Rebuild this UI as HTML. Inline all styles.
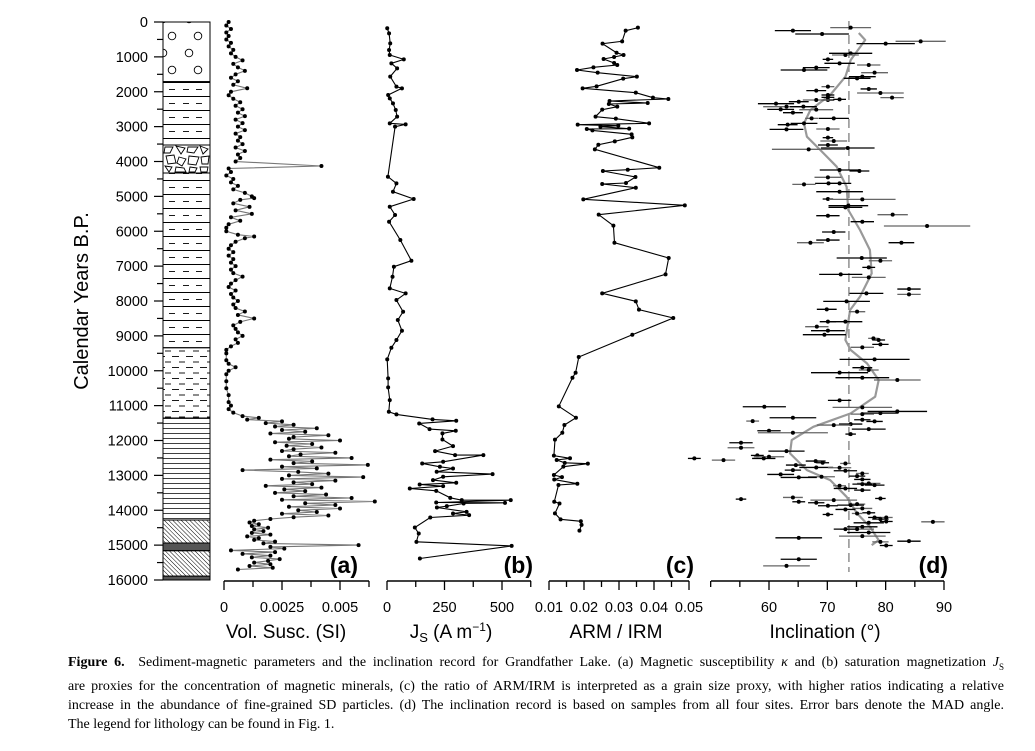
<!DOCTYPE html>
<html><head><meta charset="utf-8">
<style>
html,body{margin:0;padding:0;background:#fff;}
body{width:1035px;height:751px;position:relative;overflow:hidden;font-family:"Liberation Sans",sans-serif;}
#cap{position:absolute;left:68px;top:653px;width:936px;font-family:"Liberation Serif",serif;font-size:14px;line-height:19px;color:#000;}
#cap div{text-align:justify;text-align-last:justify;white-space:nowrap;}
#cap div.last{text-align-last:left;}
</style></head>
<body>
<svg id="chart" width="1035" height="751" viewBox="0 0 1035 751" xmlns="http://www.w3.org/2000/svg" style="position:absolute;left:0;top:0">
<defs>
<pattern id="pGravel" patternUnits="userSpaceOnUse" x="163" y="19" width="26" height="34">
<circle cx="0" cy="0" r="3.8" fill="none" stroke="#000" stroke-width="0.9"/>
<circle cx="26" cy="0" r="3.8" fill="none" stroke="#000" stroke-width="0.9"/>
<circle cx="9" cy="17" r="3.8" fill="none" stroke="#000" stroke-width="0.9"/>
<circle cx="0" cy="34" r="3.8" fill="none" stroke="#000" stroke-width="0.9"/>
<circle cx="26" cy="34" r="3.8" fill="none" stroke="#000" stroke-width="0.9"/>
</pattern>
<pattern id="pSilt" patternUnits="userSpaceOnUse" x="163" y="82" width="47" height="14">
<line x1="0" y1="0.5" x2="47" y2="0.5" stroke="#000" stroke-width="0.9"/>
<line x1="6" y1="7.5" x2="12" y2="7.5" stroke="#000" stroke-width="0.9"/>
<line x1="20" y1="7.5" x2="26" y2="7.5" stroke="#000" stroke-width="0.9"/>
<line x1="33" y1="7.5" x2="39" y2="7.5" stroke="#000" stroke-width="0.9"/>
</pattern>
<pattern id="pDash" patternUnits="userSpaceOnUse" x="163" y="348" width="14" height="11">
<line x1="2" y1="3" x2="8" y2="3" stroke="#000" stroke-width="0.9"/>
<line x1="9" y1="8.5" x2="14" y2="8.5" stroke="#000" stroke-width="0.9"/>
<line x1="0" y1="8.5" x2="2" y2="8.5" stroke="#000" stroke-width="0.9"/>
</pattern>
<pattern id="pLines" patternUnits="userSpaceOnUse" x="163" y="418" width="47" height="5">
<line x1="0" y1="0.5" x2="47" y2="0.5" stroke="#000" stroke-width="0.8"/>
</pattern>
<pattern id="pHatch" patternUnits="userSpaceOnUse" width="3" height="3" patternTransform="rotate(-45)">
<line x1="0" y1="0" x2="0" y2="3" stroke="#000" stroke-width="1"/>
</pattern>
</defs>
<g id="litho"></g>
<g id="yaxis"></g>
<g id="panelA"></g>
<g id="panelB"></g>
<g id="panelC"></g>
<g id="panelD"></g>
<g id="axes"></g>
<text transform="translate(88,301) rotate(-90)" text-anchor="middle" font-size="20" font-family="Liberation Sans, sans-serif">Calendar Years B.P.</text>
<text x="358" y="573" text-anchor="end" font-size="23" font-weight="bold" font-family="Liberation Sans, sans-serif">(a)</text>
<text x="533" y="573" text-anchor="end" font-size="23" font-weight="bold" font-family="Liberation Sans, sans-serif">(b)</text>
<text x="694" y="573" text-anchor="end" font-size="23" font-weight="bold" font-family="Liberation Sans, sans-serif">(c)</text>
<text x="948" y="573" text-anchor="end" font-size="23" font-weight="bold" font-family="Liberation Sans, sans-serif">(d)</text>
<text x="286" y="638" text-anchor="middle" font-size="19" font-family="Liberation Sans, sans-serif">Vol. Susc. (SI)</text>
<text x="451" y="638" text-anchor="middle" font-size="19" font-family="Liberation Sans, sans-serif">J<tspan font-size="13" dy="4">S</tspan><tspan dy="-4"> (A m</tspan><tspan font-size="12" dy="-7">−1</tspan><tspan dy="7">)</tspan></text>
<text x="616" y="638" text-anchor="middle" font-size="19" font-family="Liberation Sans, sans-serif">ARM / IRM</text>
<text x="825" y="638" text-anchor="middle" font-size="19" font-family="Liberation Sans, sans-serif">Inclination (°)</text>
</svg>
<div id="cap">
<div><b>Figure 6.</b>&nbsp; Sediment-magnetic parameters and the inclination record for Grandfather Lake. (a) Magnetic susceptibility <i>κ</i> and (b) saturation magnetization <i>J</i><sub style="font-size:9px">S</sub></div>
<div>are proxies for the concentration of magnetic minerals, (c) the ratio of ARM/IRM is interpreted as a grain size proxy, with higher ratios indicating a relative</div>
<div>increase in the abundance of fine-grained SD particles. (d) The inclination record is based on samples from all four sites. Error bars denote the MAD angle.</div>
<div class="last">The legend for lithology can be found in Fig. 1.</div>
</div>
<script>
// ---- Data ----
const suscAges = [0,100,200,300,400,500,600,700,800,900,1000,1100,1200,1300,1400,1500,1600,1700,1800,1900,2000,2100,2200,2300,2400,2500,2600,2700,2800,2900,3000,3100,3200,3300,3400,3500,3600,3700,3800,3900,4000,4130,4200,4300,4400,4500,4600,4700,4800,4900,5000,5050,5100,5200,5300,5400,5500,5600,5700,5800,5900,6000,6100,6150,6200,6300,6400,6500,6600,6700,6800,6900,7000,7100,7200,7300,7400,7500,7600,7700,7800,7900,8000,8100,8200,8300,8400,8500,8600,8700,8800,8900,9000,9100,9200,9300,9400,9500,9700,9800,9900,10000,10100,10300,10500,10700,10900,11000,11100,11200,11300,11350,11400,11450,11500,11550,11600,11650,11700,11750,11800,11850,11900,11950,12000,12050,12100,12150,12200,12250,12300,12350,12400,12450,12500,12550,12600,12650,12700,12750,12800,12850,12900,12950,13000,13050,13100,13150,13200,13250,13300,13350,13400,13450,13500,13550,13600,13650,13700,13750,13800,13850,13900,13950,14000,14050,14100,14150,14200,14250,14300,14350,14400,14450,14500,14550,14600,14650,14700,14750,14800,14850,14900,14950,15000,15050,15100,15150,15200,15250,15300,15350,15400,15450,15500,15550,15600,15650,15700];
const suscVals = [0.0002,0.0001,0.0003,0.0001,0.0002,0.0001,0.0003,0.0002,0.0004,0.0003,0.0005,0.0008,0.0004,0.0006,0.0009,0.0005,0.0003,0.0006,0.0004,0.0010,0.0003,0.0002,0.0004,0.0007,0.0005,0.0008,0.0006,0.0009,0.0005,0.0008,0.0006,0.0009,0.0005,0.0007,0.0006,0.0008,0.0005,0.0009,0.0006,0.0007,0.0005,0.0042,0.0002,0.0003,0.0001,0.0004,0.0003,0.0006,0.0004,0.0009,0.0012,0.0013,0.0007,0.0004,0.0011,0.0005,0.0012,0.0003,0.0007,0.0002,0.0001,0.0001,0.0006,0.0013,0.0009,0.0005,0.0003,0.0002,0.0004,0.0002,0.0004,0.0003,0.0005,0.0003,0.0004,0.0008,0.0005,0.0003,0.0002,0.0005,0.0003,0.0004,0.0006,0.0004,0.0005,0.0009,0.0006,0.0013,0.0007,0.0004,0.0005,0.0006,0.0008,0.0005,0.0006,0.0003,0.0001,0.0001,0.0001,0.0002,0.0005,0.0002,0.0001,0.0001,0.0001,0.0002,0.0002,0.0003,0.0002,0.0004,0.0008,0.0015,0.0010,0.0025,0.0018,0.0030,0.0022,0.0040,0.0025,0.0035,0.0020,0.0045,0.0030,0.0028,0.0050,0.0022,0.0038,0.0027,0.0042,0.0030,0.0025,0.0048,0.0033,0.0028,0.0055,0.0020,0.0038,0.0030,0.0062,0.0025,0.0040,0.0008,0.0032,0.0045,0.0028,0.0060,0.0025,0.0048,0.0030,0.0038,0.0018,0.0042,0.0026,0.0035,0.0022,0.0044,0.0030,0.0055,0.0025,0.0065,0.0035,0.0048,0.0028,0.0050,0.0032,0.0040,0.0025,0.0045,0.0030,0.0020,0.0013,0.0011,0.0015,0.0012,0.0019,0.0013,0.0017,0.0012,0.0020,0.0010,0.0015,0.0013,0.0022,0.0017,0.0058,0.0020,0.0026,0.0003,0.0022,0.0008,0.0020,0.0012,0.0024,0.0019,0.0013,0.0020,0.0011,0.0021,0.0006];

const jsAges = [181,325,612,803,947,1071,1185,1328,1567,1854,1902,2093,2189,2333,2524,2715,2906,2935,3001,4436,4627,4866,5076,5296,5535,5726,6252,6845,7017,7304,7638,7782,7973,8307,8546,8852,9120,9340,9675,10220,10478,10841,11176,11252,11396,11434,11511,11673,11721,11797,11970,12161,12304,12419,12419,12610,12658,12754,12802,12897,12964,13041,13136,13213,13261,13309,13376,13443,13644,13711,13711,13778,13787,13807,13883,13921,14045,14093,14141,14208,14495,14667,14906,15021,15384];
const jsVals = [1,9,14,9,12,73,19,44,14,41,65,5,12,26,38,44,12,81,35,4,41,26,116,12,35,9,58,106,30,24,12,81,41,70,47,65,41,19,1,5,5,12,8,41,198,301,140,185,299,241,241,287,209,296,419,244,153,230,287,216,459,244,200,301,142,244,99,214,275,325,538,214,513,333,260,217,346,287,357,188,121,138,128,542,143];

const armAges = [163,249,554,621,880,946,1004,1061,1176,1233,1300,1376,1453,1568,1625,1845,1902,2026,2170,2208,2265,2323,2351,2428,2514,2714,2772,2906,2944,2973,3001,3059,3068,3107,3221,3307,3422,3518,3651,4178,4235,4272,4445,4617,4645,4751,5085,5257,5525,5840,6328,6767,7235,7780,8010,8249,8487,8966,9606,10056,10199,11020,11346,11556,11776,11976,12435,12510,12559,12640,12664,12750,12989,13050,13120,13239,13277,13755,13805,14090,14260,14317,14420,14585];
const armVals = [0.0354,0.0319,0.0309,0.0253,0.0293,0.0313,0.0286,0.0256,0.0286,0.0295,0.0227,0.0180,0.0239,0.0351,0.0312,0.0236,0.0196,0.0348,0.0397,0.0441,0.0273,0.0382,0.0271,0.0295,0.0252,0.0233,0.0291,0.0386,0.0182,0.0298,0.0247,0.0329,0.0208,0.0224,0.0336,0.0338,0.0288,0.0241,0.0231,0.0415,0.0325,0.0254,0.0347,0.0320,0.0252,0.0348,0.0198,0.0488,0.0242,0.0284,0.0287,0.0442,0.0433,0.0252,0.0348,0.0357,0.0455,0.0338,0.0185,0.0176,0.0167,0.0128,0.0177,0.0144,0.0138,0.0117,0.0114,0.0160,0.0122,0.0145,0.0211,0.0141,0.0114,0.0137,0.0115,0.0181,0.0127,0.0115,0.0130,0.0117,0.0133,0.0191,0.0193,0.0187];

const incAges = [162,248,344,554,621,898,946,1071,1185,1233,1309,1376,1453,1568,1615,1854,1920,1968,2035,2093,2160,2169,2218,2237,2237,2285,2342,2428,2428,2505,2514,2600,2763,2763,2906,2944,3068,3078,3317,3412,3527,3613,3651,4244,4272,4454,4627,4627,4656,4866,5076,5085,5267,5315,5525,5554,5726,5850,6022,6252,6328,6328,6767,6845,7036,7237,7323,7657,7782,7810,8010,8239,8306,8593,8593,8736,8851,8966,9071,9118,9243,9328,9673,9912,9979,10055,10199,10266,10850,11033,11051,11166,11214,11243,11348,11405,11443,11453,11529,11558,11673,11721,11778,11816,12065,12208,12304,12428,12466,12514,12514,12562,12590,12638,12658,12705,12773,12782,12849,12868,12945,12973,13021,13040,13059,13116,13231,13250,13279,13298,13375,13423,13633,13662,13681,13709,13757,13786,13824,13853,13872,13948,13977,14073,14092,14121,14207,14207,14255,14322,14332,14360,14475,14542,14542,14638,14743,14791,14887,14906,15011,15404,15595];
const incVals = [74.0,64.1,69.1,86.0,80.0,74.0,73.1,70.1,72.1,77.1,68.1,66.0,78.1,76.0,75.1,70.1,77.1,68.1,79.1,70.1,70.1,81.1,72.1,70.1,68.1,65.1,61.2,63.0,65.9,62.0,68.1,64.1,71.1,67.3,66.0,63.2,70.1,63.0,70.1,71.1,70.1,73.5,66.8,72.1,75.5,70.1,70.2,72.1,66.0,72.1,70.1,76.0,73.6,73.1,81.2,70.1,76.0,87.1,71.1,70.1,67.1,82.7,75.9,79.1,77.1,72.3,77.1,84.0,76.7,84.0,73.3,69.9,75.1,73.1,70.1,68.2,70.1,69.5,77.9,78.8,79.1,76.0,78.1,76.0,77.1,72.1,76.0,82.0,72.1,59.2,76.0,82.0,79.1,76.0,64.1,76.0,57.2,78.1,74.0,71.1,77.1,60.0,64.1,74.0,55.2,55.2,63.0,58.0,60.0,47.2,59.1,52.2,68.0,69.2,73.1,64.6,68.1,72.1,64.1,73.1,76.0,62.0,75.1,69.0,65.1,76.0,77.1,76.0,78.1,72.1,73.1,76.0,64.1,79.1,55.2,71.1,65.1,68.1,75.1,74.0,70.1,76.0,73.1,77.1,75.1,70.1,78.1,80.1,79.1,80.1,88.1,77.1,76.0,75.1,73.1,77.1,76.0,65.1,84.0,79.1,80.1,65.1,63.0];
const incErr = [3.5,3.1,4.6,4.3,5.0,3.7,2.3,0.9,2.6,2.0,2.3,4.0,2.3,2.3,2.3,1.1,1.4,1.7,4.0,1.1,1.1,2.0,1.1,1.1,2.3,1.7,3.1,4.0,2.3,2.3,2.9,1.7,2.6,1.1,2.3,1.7,2.0,2.9,0.9,2.3,1.7,4.6,6.3,3.4,1.7,2.3,2.3,2.0,2.0,4.0,0.9,5.7,3.4,2.9,2.6,2.0,2.0,7.4,2.0,2.0,2.3,2.2,4.3,2.0,1.1,3.7,2.9,2.0,2.9,2.0,4.0,1.7,1.4,2.9,1.4,2.0,2.9,3.7,0.9,1.1,1.4,2.0,6.0,1.7,1.7,4.9,4.6,4.0,2.0,3.7,5.1,5.1,3.1,2.0,4.0,1.4,1.1,1.4,2.0,2.9,2.9,2.0,6.0,0.9,2.0,2.3,3.1,1.1,2.6,1.1,2.0,2.0,1.7,1.1,0.9,1.7,2.9,2.0,1.4,2.0,1.1,2.3,1.4,2.3,3.1,1.4,2.0,1.7,1.7,1.1,2.0,1.4,1.7,0.9,0.9,4.0,1.1,1.4,1.4,2.3,1.7,1.7,1.7,1.1,0.9,0.9,1.1,1.1,1.4,1.1,2.0,2.6,2.6,2.9,2.0,3.7,4.0,4.0,2.0,1.4,1.1,3.1,4.0];

const curveAges = [316,516,1090,1568,2093,2523,2906,3288,3670,4148,4722,5391,5965,6538,7208,7877,8259,9118,9405,9788,10266,10744,11223,11606,11988,12370,12849,13135,13613,14092,14475,14857,15000];
const curveVals = [75.4,76.5,74.0,73.1,70.5,67.1,66.0,66.5,68.8,71.6,73.3,73.6,75.6,77.3,77.6,75.6,73.9,73.1,74.0,76.8,78.8,78.2,74.0,67.6,63.9,63.6,66.5,70.5,73.3,75.1,77.3,78.8,77.6];
const refInclination = 73.7;

const yTicks = [0,1000,2000,3000,4000,5000,6000,7000,8000,9000,10000,11000,12000,13000,14000,15000,16000];
const aTickLabels = ["0","0.0025","0.005"];
const aTickVals = [0,0.0025,0.005];
const bTickLabels = ["0","250","500"];
const bTickVals = [0,250,500];
const cTickLabels = ["0.01","0.02","0.03","0.04","0.05"];
const cTickVals = [0.01,0.02,0.03,0.04,0.05];
const dTickLabels = ["60","70","80","90"];
const dTickVals = [60,70,80,90];

const lithoTops = [0,1711,3527,4330,9340,11355,14280,14940,15160,15890];
const lithoBottoms = [1711,3527,4330,9340,11355,14280,14940,15160,15890,16000];
const lithoTypes = ["gravel","silt","breccia","silt","dash","lines","hatch","dark","hatch","dark"];

// ---- Scales ----
const NS = "http://www.w3.org/2000/svg";
const Y0 = 22, Y1 = 580;
const y = a => Y0 + (a/16000)*(Y1-Y0);
const xA = v => 224 + v/0.005*116;
const xB = v => 387 + v*0.23;
const xC = v => 549 + (v-0.01)/0.04*140;
const xD = v => 769 + (v-60)*5.833;
const AXY = 581;

function mk(tag, attrs, parent){
  const e = document.createElementNS(NS, tag);
  for (const k in attrs) e.setAttribute(k, attrs[k]);
  parent.appendChild(e);
  return e;
}

const litho = document.getElementById('litho');
const fills = {gravel:'url(#pGravel)',silt:'url(#pSilt)',dash:'url(#pDash)',lines:'url(#pLines)',hatch:'url(#pHatch)',dark:'#555',breccia:'#fff'};
for (let i=0;i<lithoTops.length;i++){
  const r = mk('rect',{x:163,y:y(lithoTops[i]),width:47,height:y(lithoBottoms[i])-y(lithoTops[i]),fill:fills[lithoTypes[i]],stroke:'#000','stroke-width':1},litho);
  
  
  if (lithoTypes[i]==='breccia'){
    const t=y(lithoTops[i]), b=y(lithoBottoms[i]);
    const polys=[[[165,t+2],[173,t+2],[170,t+8],[164,t+8]],[[176,t+1],[185,t+3],[181,t+9]],[[188,t+2],[198,t+2],[194,t+8],[187,t+7]],[[200,t+1],[208,t+4],[203,t+9]],[[166,t+11],[174,t+10],[176,t+18],[168,t+19]],[[179,t+12],[186,t+14],[182,t+21],[177,t+18]],[[189,t+11],[199,t+12],[196,t+20],[188,t+19]],[[201,t+12],[209,t+11],[208,t+19],[202,t+19]],[[165,t+21],[172,t+22],[169,b-1]],[[176,t+22],[184,t+23],[186,b-1],[175,b-1]],[[190,t+22],[197,t+23],[195,b-1],[189,b-1]],[[200,t+22],[208,t+22],[207,b-1],[201,b-1]]];
    polys.forEach(p=>{
      const pg=mk('polygon',{points:p.map(q=>q.join(',')).join(' '),fill:'none',stroke:'#000','stroke-width':0.9},litho);
      
      
    });
  }
}

const yax = document.getElementById('yaxis');
for (let a=0;a<=16000;a+=500){
  const major = a%1000===0;
  const tk = mk('line',{x1:major?154:157,x2:163,y1:y(a),y2:y(a),stroke:'#000','stroke-width':1.2},yax);
  
  
}
yTicks.forEach(a=>{
  const t = mk('text',{x:148,y:y(a)+5,'text-anchor':'end','font-size':14.5,'font-family':'Liberation Sans, sans-serif'},yax);
  t.textContent = a;
  
  
});

const axes = document.getElementById('axes');
function xAxis(x1,x2,minorVals,sc,labVals,labs,name){
  const l = mk('line',{x1:x1,x2:x2,y1:AXY,y2:AXY,stroke:'#000','stroke-width':1.5},axes);
  
  
  minorVals.forEach(v=>{
    const major = labVals.some(m=>Math.abs(m-v)<1e-9);
    const t = mk('line',{x1:sc(v),x2:sc(v),y1:AXY,y2:AXY+(major?9:6),stroke:'#000','stroke-width':1.3},axes);
    
    
  });
  labVals.forEach((v,i)=>{
    const t = mk('text',{x:sc(v),y:612,'text-anchor':'middle','font-size':14.5,'font-family':'Liberation Sans, sans-serif'},axes);
    t.textContent = labs[i];
    
    
  });
}
xAxis(224,369,[0,0.00125,0.0025,0.00375,0.005,0.00625],xA,aTickVals,aTickLabels,'x-a');
xAxis(387,531,[0,125,250,375,500,625],xB,bTickVals,bTickLabels,'x-b');
xAxis(549,689,[0.01,0.015,0.02,0.025,0.03,0.035,0.04,0.045,0.05],xC,cTickVals,cTickLabels,'x-c');
xAxis(711,944,[50,55,60,65,70,75,80,85,90],xD,dTickVals,dTickLabels,'x-d');

function series(gid,ages,vals,sc,lineColor,name){
  const g = document.getElementById(gid);
  const d = ages.map((a,i)=>(i?'L':'M')+sc(vals[i]).toFixed(1)+','+y(a).toFixed(1)).join('');
  const p = mk('path',{d:d,fill:'none',stroke:lineColor,'stroke-width':1.1},g);
  
  
  ages.forEach((a,i)=>{
    const c = mk('circle',{cx:sc(vals[i]),cy:y(a),r:2,fill:'#000'},g);
    
    
  });
}
series('panelA',suscAges,suscVals,xA,'#777','susceptibility');
series('panelB',jsAges,jsVals,xB,'#000','saturation-magnetization');
series('panelC',armAges,armVals,xC,'#000','arm-irm');

const gd = document.getElementById('panelD');
const ref = mk('line',{x1:xD(refInclination),x2:xD(refInclination),y1:y(0)-1,y2:y(16000)-8,stroke:'#888','stroke-width':1.4,'stroke-dasharray':'9,5'},gd);


const cd = curveAges.map((a,i)=>(i?'L':'M')+xD(curveVals[i]).toFixed(1)+','+y(a).toFixed(1)).join('');
const cv = mk('path',{d:cd,fill:'none',stroke:'#999','stroke-width':2.2,'stroke-linejoin':'round'},gd);


incAges.forEach((a,i)=>{
  const e = mk('line',{x1:xD(incVals[i]-incErr[i]),x2:xD(incVals[i]+incErr[i]),y1:y(a),y2:y(a),stroke:(i%3===0?'#666':'#000'),'stroke-width':1.3},gd);
  
  
  const c = mk('circle',{cx:xD(incVals[i]),cy:y(a),r:2,fill:'#000'},gd);
  
  
});
</script>
</body></html>
